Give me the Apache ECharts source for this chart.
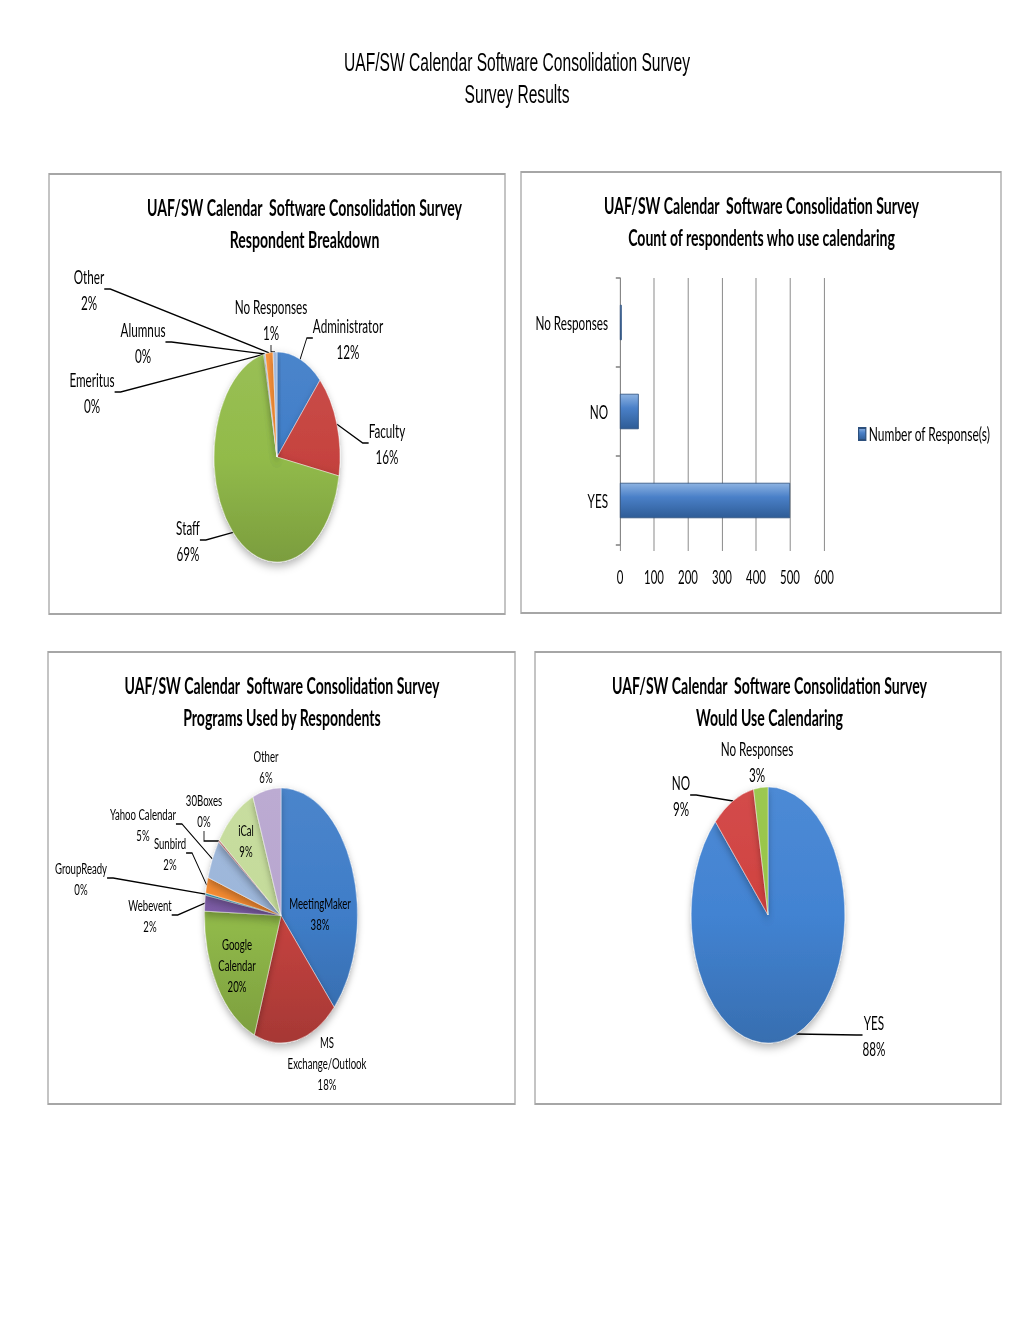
<!DOCTYPE html>
<html><head><meta charset="utf-8">
<script src="https://cdn.jsdelivr.net/npm/echarts@6/dist/echarts.min.js"></script>
<style>
html,body{margin:0;padding:0;overflow:hidden;background:#fff;}
#wrap{width:1020px;height:1320px;overflow:hidden;position:relative;}
#chart{width:1700px;height:1320px;transform:scaleX(0.6);transform-origin:0 0;position:absolute;left:0;top:0;}
</style></head><body>
<div id="wrap"><div id="chart"></div></div>
<script>
// ---------- data ----------
const respondentCategories = ['Administrator', 'Faculty', 'Staff', 'Emeritus', 'Alumnus', 'Other', 'No Responses'];
const respondentValues = [12, 16, 69, 0.2, 0.2, 2, 1];

const calendaringCategories = ['YES', 'NO', 'No Responses'];
const calendaringCounts = [500, 55, 5];
const countTicks = [0, 100, 200, 300, 400, 500, 600];

const programCategories = ['MeetingMaker', 'MS Exchange/Outlook', 'Google Calendar', 'Webevent', 'GroupReady', 'Sunbird', 'Yahoo Calendar', '30Boxes', 'iCal', 'Other'];
const programValues = [38, 18, 20, 2, 0.3, 2, 5, 0.3, 9, 6];

const wouldUseCategories = ['YES', 'NO', 'No Responses'];
const wouldUseValues = [88, 9, 3];

// ---------- layout / style ----------
const SX = 0.6; // the whole picture is horizontally compressed
const X = v => v / SX;
const FONT = 'Lato';

const chart = echarts.init(document.getElementById('chart'), null, { renderer: 'svg' });

const pal1 = ['#3F7DC8', '#C6433F', '#92BB4A', '#7C5CA6', '#3FAAC8', '#F58A30', '#9CB6DA'];
const pal3 = ['#3F7DC8', '#C6433F', '#92BB4A', '#7C5CA6', '#3FAAC8', '#F58A30', '#9CB6DA', '#DA918F', '#C4DB9A', '#B8A6CF'];
const pal4 = ['#4283D2', '#D0413F', '#96C446'];

const pie1Pos = { 'Administrator': [348, 339], 'Faculty': [387, 444], 'Staff': [188, 541], 'Emeritus': [92, 393], 'Alumnus': [143, 343], 'Other': [89, 290], 'No Responses': [271, 320] };
const pie3Pos = { 'MeetingMaker': [320, 914], 'MS Exchange/Outlook': [327, 1064], 'Google Calendar': [237, 966], 'Webevent': [150, 916], 'GroupReady': [81, 879], 'Sunbird': [170, 854], 'Yahoo Calendar': [143, 825], '30Boxes': [204, 811], 'iCal': [246, 841], 'Other': [266, 767] };
const pie3NoLine = ['MeetingMaker', 'MS Exchange/Outlook', 'Google Calendar', 'iCal', 'Other'];
const pie3Wrap = ['MS Exchange/Outlook', 'Google Calendar'];
const pie4Pos = { 'YES': [874, 1036], 'NO': [681, 796], 'No Responses': [757, 762] };
const pie4NoLine = ['No Responses'];

function mix(hex, k) { // k>0: toward white, k<0: toward black
  const n = parseInt(hex.slice(1), 16);
  const ch = [(n >> 16) & 255, (n >> 8) & 255, n & 255].map(c => Math.round(k >= 0 ? c + (255 - c) * k : c * (1 + k)));
  return 'rgb(' + ch.join(',') + ')';
}

function shade(c, cx, cy, r) {
  return new echarts.graphic.LinearGradient(cx, cy - r, cx, cy + r, [
    { offset: 0, color: mix(c, 0.06) },
    { offset: 0.5, color: c },
    { offset: 1, color: mix(c, -0.16) }
  ], true);
}

function pieSeries(names, values, colors, center, radius, posMap, noLine, wrap, fontSize, lineHeight) {
  const cx = X(center[0]), cy = center[1];
  return {
    type: 'pie',
    center: [cx, cy],
    radius: radius,
    startAngle: 90,
    clockwise: true,
    avoidLabelOverlap: false,
    animation: false,
    data: names.map((n, i) => ({
      name: n, value: values[i],
      itemStyle: { color: shade(colors[i], cx, cy, radius) },
      labelLine: { show: noLine.indexOf(n) < 0 }
    })),
    itemStyle: { borderColor: 'rgba(255,255,255,0.5)', borderWidth: 1, shadowBlur: 10, shadowColor: 'rgba(0,0,0,0.3)', shadowOffsetY: 4 },
    label: {
      show: true, position: 'outside', color: '#000', fontFamily: FONT, fontSize: fontSize, lineHeight: lineHeight, align: 'center',
      formatter: p => (wrap.indexOf(p.name) >= 0 ? p.name.replace(' ', '\n') : p.name) + '\n' + Math.round(p.percent) + '%'
    },
    labelLine: { show: true, length: 8, length2: 10, lineStyle: { color: '#000', width: 1.4 } },
    labelLayout: p => {
      const pos = posMap[names[p.dataIndex]];
      return { x: X(pos[0]), y: pos[1] - 1, align: 'center', verticalAlign: 'middle' };
    }
  };
}

const panels = [[49, 174, 505, 614], [521, 172, 1001, 613], [48, 652, 515, 1104], [535, 652, 1001, 1104]];

const titleStyle = { fontFamily: FONT, fontSize: 23.5, fontWeight: 'bold', lineHeight: 32, color: '#000' };

const option = {
  backgroundColor: '#fff',
  animation: false,
  title: [
    { text: 'UAF/SW Calendar Software Consolidation Survey\nSurvey Results', left: X(517), top: 47, textAlign: 'center', padding: 0,
      textStyle: { fontFamily: 'Liberation Sans', fontSize: 26, fontWeight: 'normal', lineHeight: 32, color: '#000' } },
    { text: 'UAF/SW Calendar  Software Consolidation Survey\nRespondent Breakdown', left: X(304.5), top: 191, textAlign: 'center', padding: 0, textStyle: titleStyle },
    { text: 'UAF/SW Calendar  Software Consolidation Survey\nCount of respondents who use calendaring', left: X(761.5), top: 189, textAlign: 'center', padding: 0, textStyle: titleStyle },
    { text: 'UAF/SW Calendar  Software Consolidation Survey\nPrograms Used by Respondents', left: X(282), top: 669, textAlign: 'center', padding: 0, textStyle: titleStyle },
    { text: 'UAF/SW Calendar  Software Consolidation Survey\nWould Use Calendaring', left: X(769.5), top: 669, textAlign: 'center', padding: 0, textStyle: titleStyle }
  ],
  graphic: panels.map(p => ({
    type: 'rect', z: -10,
    shape: { x: X(p[0]), y: p[1], width: X(p[2] - p[0]), height: p[3] - p[1] },
    style: { fill: 'none', stroke: '#a6a6a6', lineWidth: 2.2 }
  })),
  legend: {
    data: ['Number of Response(s)'], left: X(855), top: 419, icon: 'rect', itemWidth: 12, itemHeight: 12, itemGap: 5,
    textStyle: { fontFamily: FONT, fontSize: 20, color: '#000' }
  },
  grid: [{ left: X(620), top: 278, width: X(824 - 620), height: 267 }],
  xAxis: [{
    type: 'value', gridIndex: 0,
    min: countTicks[0], max: countTicks[countTicks.length - 1], interval: countTicks[1] - countTicks[0],
    axisLine: { show: false },
    axisTick: { show: true, length: 6, lineStyle: { color: '#868686', width: 1.6 } },
    splitLine: { show: true, lineStyle: { color: '#868686', width: 1.6 } },
    axisLabel: { margin: 22, fontFamily: FONT, fontSize: 19, color: '#000' }
  }],
  yAxis: [{
    type: 'category', gridIndex: 0, data: calendaringCategories,
    axisLine: { show: true, lineStyle: { color: '#868686', width: 1.6 } },
    axisTick: { show: true, length: 7, lineStyle: { color: '#868686', width: 1.6 } },
    axisLabel: { margin: 20, fontFamily: FONT, fontSize: 19.5, color: '#000' }
  }],
  series: [
    pieSeries(respondentCategories, respondentValues, pal1, [277, 457], 105, pie1Pos, [], [], 19.5, 26),
    {
      type: 'bar', name: 'Number of Response(s)', xAxisIndex: 0, yAxisIndex: 0,
      data: calendaringCounts, barCategoryGap: '60%',
      itemStyle: {
        color: new echarts.graphic.LinearGradient(0, 0, 0, 1, [
          { offset: 0, color: '#8DB3E2' }, { offset: 0.4, color: '#4A80C8' }, { offset: 1, color: '#2E5C96' }
        ]),
        borderColor: '#2C4F7C', borderWidth: 1
      }
    },
    pieSeries(programCategories, programValues, pal3, [281, 915.5], 127.5, pie3Pos, pie3NoLine, pie3Wrap, 16, 21),
    pieSeries(wouldUseCategories, wouldUseValues, pal4, [768, 915], 128, pie4Pos, pie4NoLine, [], 19.5, 26)
  ]
};
chart.setOption(option);
</script>
</body></html>
